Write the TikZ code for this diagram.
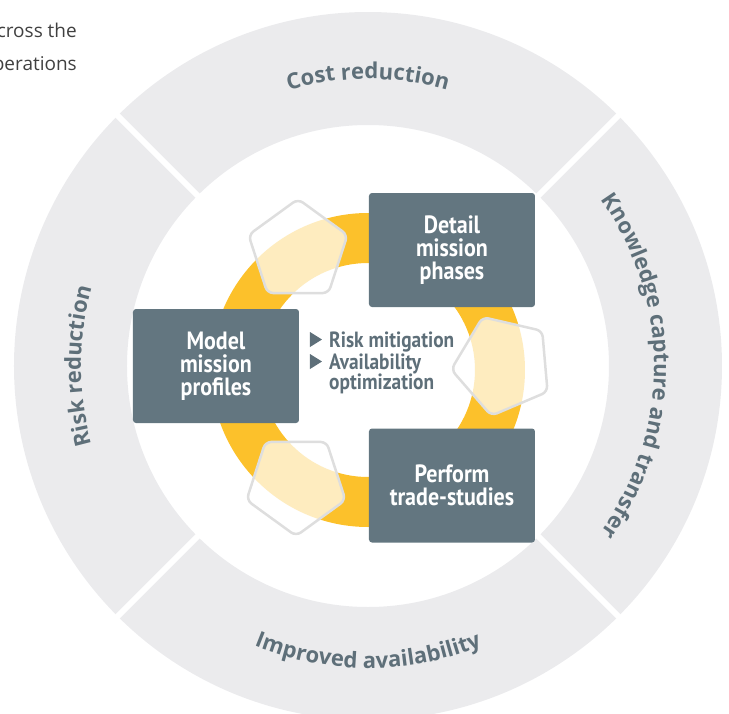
\documentclass[tikz,border=0pt]{standalone}
\usepackage{fontspec}
\setmainfont{Open Sans}
\newfontfamily\condfont[FakeStretch=0.88]{PT Sans}
\usetikzlibrary{shapes.geometric,decorations.text}

\definecolor{anello}{HTML}{EBEBED}
\definecolor{ardesia}{HTML}{637680}
\definecolor{testo}{HTML}{5E6F79}
\definecolor{giallo}{HTML}{FCC12B}
\definecolor{bordo}{HTML}{DEDEDE}
\definecolor{scuro}{HTML}{404040}

\newcommand{\anellofont}{\bfseries\fontsize{22}{22}\selectfont}

\tikzset{
  fase/.style={fill=ardesia, rounded corners=3pt, minimum width=166pt,
    minimum height=114pt, inner sep=0pt, text=white, align=center,
    font=\condfont\bfseries\fontsize{25}{23}\selectfont},
  voce/.style={anchor=base west, inner sep=0pt, text=testo,
    font=\condfont\bfseries\fontsize{22}{22}\selectfont},
  penta/.style={regular polygon, regular polygon sides=5, minimum size=104pt,
    inner sep=0pt, draw=bordo, line width=2.5pt, rounded corners=6pt,
    fill=white, fill opacity=0.7},
  etichetta/.style={decorate, decoration={text along path, text align=center,
    text color=testo}}
}

\begin{document}
\begin{tikzpicture}[x=1pt, y=1pt]
    \useasboundingbox (-368,-347) rectangle (361,366);

    % Testo tagliato in alto
    \node[anchor=base east, inner sep=0pt, text=scuro,
        font=\fontsize{19}{19}\selectfont] (riga1) at (-291,328) {cross the};
    \node[anchor=base east, inner sep=0pt, text=scuro,
        font=\fontsize{19}{19}\selectfont] (riga2) at (-291,295) {perations};

    % Anello esterno
    \fill[anello, even odd rule]
        (0,0) circle[radius=354] (0,0) circle[radius=241];
    \foreach \a in {45,135,225,315}
        \draw[white, line width=6pt] (\a:236) -- (\a:362);

    % Etichette sull'anello
    \path[etichetta, decoration={text={|\anellofont|Cost reduction}}]
        (150:287) arc[start angle=150, end angle=30, radius=287];
    \path[etichetta, decoration={text={|\anellofont|Improved availability}}]
        (210:302) arc[start angle=210, end angle=330, radius=302];
    \path[etichetta, decoration={text={|\anellofont|Risk reduction}}]
        (210:287) arc[start angle=210, end angle=150, radius=287];
    \path[etichetta, decoration={text={|\anellofont|Knowledge capture and transfer}}]
        (50:286) arc[start angle=50, end angle=-50, radius=286];

    % Ciclo giallo
    \fill[giallo, even odd rule]
        (0,-4) circle[radius=157] (0,-4) circle[radius=107];

    % Pentagoni
    \node[penta] (p1) at (-70,115) {};
    \node[penta, shape border rotate=180] (p2) at (-72,-118) {};
    \node[penta, shape border rotate=95] (p3) at (135,1) {};

    % Fasi
    \node[fase] (detail) at (84,116) {Detail\\mission\\phases};
    \node[fase] (model) at (-152,0) {Model\\mission\\profiles};
    \node[fase] (perform) at (84,-119.5) {Perform\\trade-studies};

    % Obiettivi
    \node[voce] (rischio) at (-39,19) {Risk mitigation};
    \node[voce] (disp) at (-39,-3) {Availability};
    \node[voce] (ottim) at (-39,-23) {optimization};

    \fill[testo]
        (rischio.base west) ++(-19,0) -- ++(0,15) -- ++(12,-7.5) -- cycle;
    \fill[testo]
        (disp.base west) ++(-19,0) -- ++(0,15) -- ++(12,-7.5) -- cycle;

\end{tikzpicture}
\end{document}
